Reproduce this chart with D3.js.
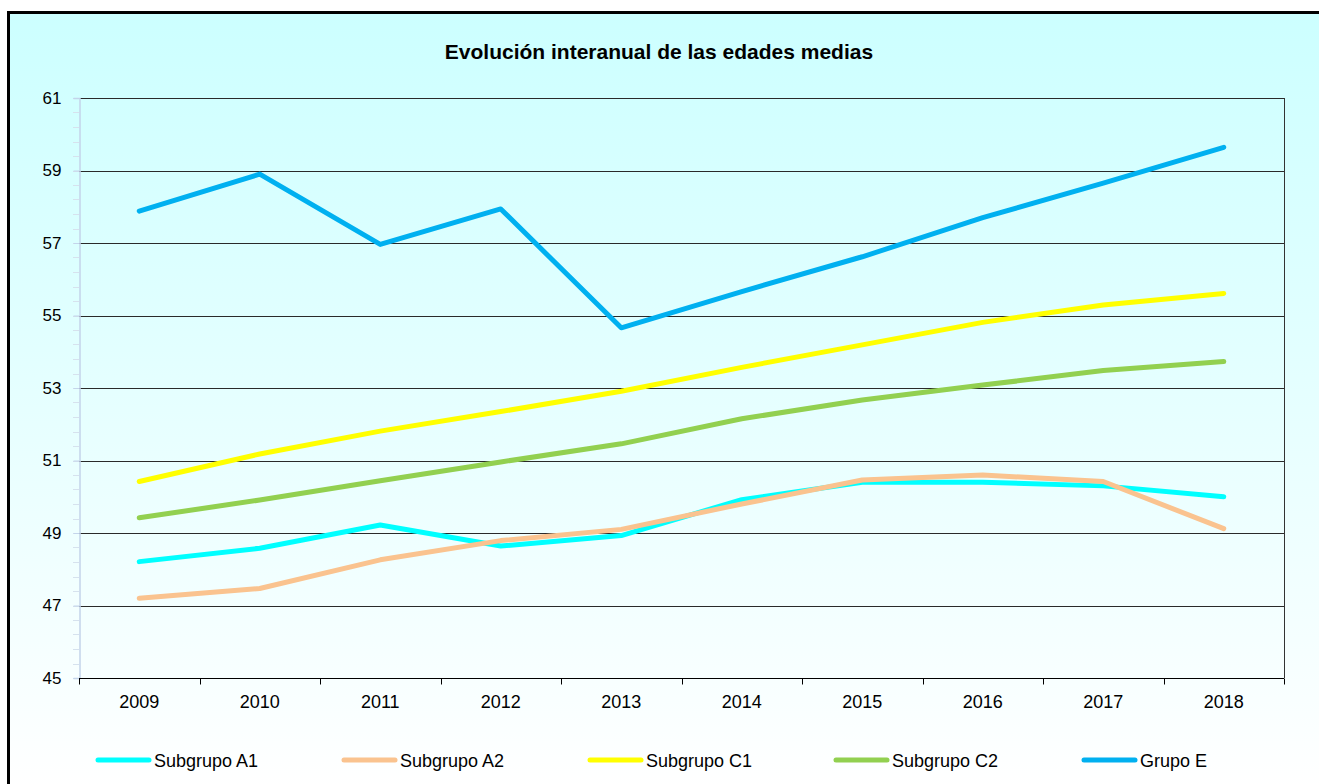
<!DOCTYPE html>
<html>
<head>
<meta charset="utf-8">
<script src="https://cdn.jsdelivr.net/npm/d3@7"></script>
<style>
  html, body { margin: 0; padding: 0; background: #fff; overflow: hidden; }
  svg { display: block; font-family: "Liberation Sans", Arial, sans-serif; }
</style>
</head>
<body>
<div id="main"></div>
<script>
var title = "Evolución interanual de las edades medias";
var years = ["2009", "2010", "2011", "2012", "2013", "2014", "2015", "2016", "2017", "2018"];
var yTicks = [45, 47, 49, 51, 53, 55, 57, 59, 61];

var subgrupoA1 = [48.21, 48.58, 49.22, 48.64, 48.93, 49.92, 50.40, 50.40, 50.30, 50.00];
var subgrupoA2 = [47.20, 47.47, 48.26, 48.79, 49.10, 49.80, 50.46, 50.60, 50.42, 49.12];
var subgrupoC1 = [50.42, 51.18, 51.81, 52.35, 52.91, 53.57, 54.19, 54.81, 55.29, 55.61];
var subgrupoC2 = [49.42, 49.91, 50.44, 50.96, 51.46, 52.15, 52.67, 53.08, 53.48, 53.73];
var grupoE     = [57.88, 58.90, 56.96, 57.94, 54.66, 55.66, 56.62, 57.70, 58.65, 59.64];

var seriesNames = ["Subgrupo A1", "Subgrupo A2", "Subgrupo C1", "Subgrupo C2", "Grupo E"];
var seriesColors = ["#00FFFF", "#FAC38F", "#FFFF00", "#92D050", "#00B0F0"];
var seriesValues = [subgrupoA1, subgrupoA2, subgrupoC1, subgrupoC2, grupoE];

var width = 1319, height = 784;
var plot = { left: 79, right: 1284, top: 98, bottom: 678 };

var svg = d3.select('#main').append('svg')
  .attr('width', width)
  .attr('height', height);

// background gradient; frame only on top and left, the chart runs off the page
var grad = svg.append('defs').append('linearGradient')
  .attr('id', 'bg')
  .attr('gradientUnits', 'userSpaceOnUse')
  .attr('x1', 0).attr('y1', 12).attr('x2', 0).attr('y2', 790);
grad.append('stop').attr('offset', '0%').attr('stop-color', '#CCFFFF');
grad.append('stop').attr('offset', '100%').attr('stop-color', '#FFFFFF');

svg.append('rect')
  .attr('x', 8).attr('y', 12)
  .attr('width', width - 8).attr('height', height - 12)
  .attr('fill', 'url(#bg)');
svg.append('path')
  .attr('d', 'M8.5,' + height + 'V12.5H' + width)
  .attr('fill', 'none')
  .attr('stroke', '#000')
  .attr('stroke-width', 3);

svg.append('text')
  .attr('x', 659).attr('y', 59)
  .attr('text-anchor', 'middle')
  .attr('font-size', 21)
  .attr('font-weight', 'bold')
  .text(title);

var x = d3.scaleBand().domain(years).range([plot.left, plot.right]);
var y = d3.scaleLinear().domain([45, 61]).range([plot.bottom, plot.top]);
var cx = function(d) { return x(d) + x.bandwidth() / 2; };

// gridlines
svg.append('g').selectAll('line')
  .data(yTicks.filter(function(t) { return t > 45; }))
  .enter().append('line')
  .attr('x1', plot.left).attr('x2', plot.right)
  .attr('y1', function(d) { return Math.round(y(d)) + 0.5; })
  .attr('y2', function(d) { return Math.round(y(d)) + 0.5; })
  .attr('stroke', '#2a2a2a')
  .attr('stroke-width', 1);

// right border of plot
svg.append('line')
  .attr('x1', plot.right + 0.5).attr('x2', plot.right + 0.5)
  .attr('y1', plot.top).attr('y2', plot.bottom)
  .attr('stroke', '#333').attr('stroke-width', 1);

// minor ticks on y axis
var minor = d3.range(45, 61.001, 0.4);
svg.append('g').selectAll('line')
  .data(minor)
  .enter().append('line')
  .attr('x1', plot.left - 6).attr('x2', plot.left)
  .attr('y1', function(d) { return Math.round(y(d)) + 0.5; })
  .attr('y2', function(d) { return Math.round(y(d)) + 0.5; })
  .attr('stroke', '#d6e2ee');

// y axis
var yAxis = svg.append('g')
  .attr('transform', 'translate(' + (plot.left + 0.5) + ',0)')
  .call(d3.axisLeft(y).tickValues(yTicks).tickSize(6).tickPadding(12).tickFormat(d3.format('d')));
yAxis.select('.domain').attr('stroke', '#c3d4ea').attr('stroke-width', 1.5);
yAxis.selectAll('.tick line').attr('stroke', '#c3d4ea');
yAxis.selectAll('text')
  .attr('font-size', 17)
  .attr('fill', '#000')
  .attr('font-family', '"Liberation Sans", Arial, sans-serif');

// x axis
var xAxisG = svg.append('g')
  .attr('transform', 'translate(0,' + (plot.bottom + 0.5) + ')');
xAxisG.append('line')
  .attr('x1', plot.left).attr('x2', plot.right)
  .attr('stroke', '#000');
xAxisG.selectAll('line.tk')
  .data(years.concat(['end']))
  .enter().append('line')
  .attr('class', 'tk')
  .attr('x1', function(d, i) { return Math.round(plot.left + i * x.bandwidth()) + 0.5; })
  .attr('x2', function(d, i) { return Math.round(plot.left + i * x.bandwidth()) + 0.5; })
  .attr('y1', 0).attr('y2', 6)
  .attr('stroke', '#000');
xAxisG.selectAll('text')
  .data(years)
  .enter().append('text')
  .attr('x', cx)
  .attr('y', 29)
  .attr('text-anchor', 'middle')
  .attr('font-size', 18)
  .text(function(d) { return d; });

// lines
var line = d3.line()
  .x(function(d, i) { return cx(years[i]); })
  .y(function(d) { return y(d); });

svg.append('g').selectAll('path')
  .data(seriesValues)
  .enter().append('path')
  .attr('d', line)
  .attr('fill', 'none')
  .attr('stroke', function(d, i) { return seriesColors[i]; })
  .attr('stroke-width', 5)
  .attr('stroke-linecap', 'round')
  .attr('stroke-linejoin', 'round');

// legend
var legendX = [96, 342, 588, 834, 1082];
var legend = svg.append('g').selectAll('g')
  .data(seriesNames)
  .enter().append('g')
  .attr('transform', function(d, i) { return 'translate(' + legendX[i] + ',760)'; });
legend.append('line')
  .attr('x1', 2).attr('x2', 53)
  .attr('stroke', function(d, i) { return seriesColors[i]; })
  .attr('stroke-width', 5)
  .attr('stroke-linecap', 'round');
legend.append('text')
  .attr('x', 58).attr('y', 7)
  .attr('font-size', 18)
  .text(function(d) { return d; });
</script>
</body>
</html>
